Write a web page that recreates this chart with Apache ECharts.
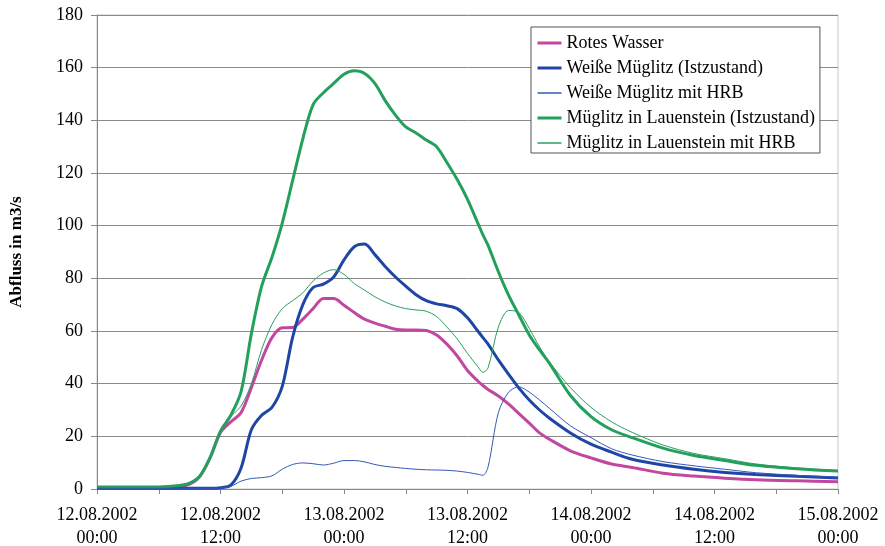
<!DOCTYPE html>
<html>
<head>
<meta charset="utf-8">
<script src="https://cdn.jsdelivr.net/npm/echarts@6/dist/echarts.min.js"></script>
<style>html,body{margin:0;padding:0;background:#fff}#c{width:885px;height:546px}</style>
</head>
<body>
<div id="c"></div>
<script>
// hours since 12.08.2002 00:00
const hours = [0,6,8,9,10,11,12,13,14,15,16,17,18,19,20,21,22,23,24,25,26,27,28,29,30,31,32,33,34,35,36,37,37.5,38,39,40,41,42,43,44,46,48,50,52,55,58,61,64,68,72];
const rotesWasser = [0.3,0.3,1,1.8,4.8,12,21.5,25.5,29,38.5,49,57.5,61.2,61.3,64.5,68.5,72.3,72.3,69.8,67,64.5,63,61.8,60.7,60.4,60.4,60.2,58.5,55,50.5,45,41,39.3,37.8,35.3,32.2,28.6,25,21.3,18.8,14.5,11.8,9.5,8.2,6,4.9,4.1,3.5,3.1,2.8];
const weisseIst = [0.3,0.3,0.3,0.3,0.3,0.3,0.5,1.5,8,22.5,28,31,39,57.5,70,76.5,77.8,80.5,87,92,93,89,84.5,80.5,77,73.8,71.5,70.3,69.6,68.5,65,60,57.5,55,49,43.5,38.3,33.8,30,26.8,21.3,17,14,11.3,9.1,7.5,6.3,5.5,4.8,4.2];
const weisseHRB = [0.3,0.3,0.3,0.3,0.3,0.3,0.4,1,3,4,4.3,5,7.5,9.3,9.9,9.6,9.1,9.8,10.8,10.8,10.3,9.3,8.6,8.2,7.8,7.5,7.3,7.2,7.1,6.8,6.3,5.6,5.2,8.4,29,36.8,38.8,36.8,33.8,30.5,24,19.5,15.3,12.9,10.4,8.8,7.5,6.2,5.2,4.5];
const lauenIst = [0.8,0.8,1.3,2.2,5,12,22,28,37,59,77,88,101,117,133,146,150.5,154,157.5,158.8,157.8,154,147.5,142,137.5,135.2,132.5,130,124,117.5,110,101,96.5,92.5,82.5,73.5,66,58.5,52.8,47.5,35.5,27.5,22.5,19.5,15.5,12.7,10.8,9,7.7,6.8];
const lauenHRB = [0.8,0.8,1.3,2.2,5,12,22,27.5,31.5,40,53,62.5,68.5,71.5,74.5,79,82,83.3,81.5,78,75.5,73,71,69.5,68.5,68,67.5,65.5,61.5,57,51.5,46.5,44.3,46,61.5,67.8,67,61,54,48,38.5,31,25.5,21.5,16.7,13.5,11.5,9.5,8,7];
const seriesNames = ['Rotes Wasser','Weiße Müglitz (Istzustand)','Weiße Müglitz mit HRB','Müglitz in Lauenstein (Istzustand)','Müglitz in Lauenstein mit HRB'];
const yTicks = [0,20,40,60,80,100,120,140,160,180];

const FONT = '"Liberation Serif","Times New Roman",serif';
const colors = ['#C2479F','#1F45A5','#3358B8','#22A05C','#2A9E5E'];
const widths = [3,3,1,3,1];
function pair(arr){ return hours.map((h,i)=>[h, arr[i]]); }
function mk(i, arr){
  return {name:seriesNames[i], type:'line', data:pair(arr), smooth:0.3, showSymbol:false, symbol:'none',
    lineStyle:{color:colors[i], width:widths[i]}, itemStyle:{color:colors[i]}, z: widths[i]>2?3:4, animation:false};
}
const chart = echarts.init(document.getElementById('c'), null, {renderer:'canvas'});
chart.setOption({
  animation:false,
  backgroundColor:'#fff',
  grid:{left:97, right:47, top:15, bottom:57, containLabel:false, outerBoundsMode:'none',
        show:true, borderColor:'#c8c8c8', borderWidth:1},
  legend:{
    orient:'vertical', left:531, top:27, padding:[7,5,1,5], itemGap:7, itemWidth:24, itemHeight:14,
    backgroundColor:'#fff', borderColor:'#555', borderWidth:1,
    itemStyle:{opacity:0},
    textStyle:{fontFamily:FONT, fontSize:18, color:'#000', lineHeight:18},
    data:seriesNames.map((n,i)=>({name:n, lineStyle:{color:colors[i], width:widths[i]===3?3:1.5}}))
  },
  xAxis:{
    type:'value', min:0, max:72, interval:6,
    axisLine:{show:true, lineStyle:{color:'#888', width:1}},
    axisTick:{show:true, inside:false, length:5, lineStyle:{color:'#888'}},
    splitLine:{show:false},
    axisLabel:{
      margin:15, fontFamily:FONT, fontSize:18, color:'#000', lineHeight:23, showMaxLabel:true, showMinLabel:true,
      formatter:function(v){
        if (v % 12 !== 0) return '';
        const d = 12 + Math.floor(v/24);
        const h = v % 24;
        return d + '.08.2002\n' + (h<10?'0'+h:h) + ':00';
      }
    }
  },
  yAxis:{
    type:'value', min:yTicks[0], max:yTicks[yTicks.length-1], interval:20,
    name:'Abfluss in m3/s', nameLocation:'middle', nameGap:72,
    nameTextStyle:{fontFamily:FONT, fontSize:17, fontWeight:'bold', color:'#000'},
    axisLine:{show:true, lineStyle:{color:'#888', width:1}},
    axisTick:{show:true, inside:false, length:6, lineStyle:{color:'#888'}},
    splitLine:{show:true, lineStyle:{color:'#8a8a8a', width:1}},
    axisLabel:{margin:14, fontFamily:FONT, fontSize:18, color:'#000'}
  },
  series:[
    mk(0, rotesWasser),
    mk(1, weisseIst),
    mk(2, weisseHRB),
    mk(3, lauenIst),
    mk(4, lauenHRB)
  ]
});
</script>
</body>
</html>
